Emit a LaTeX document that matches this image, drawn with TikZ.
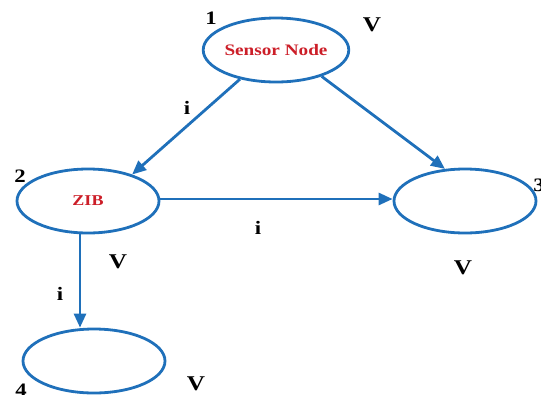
\documentclass[tikz,border=0pt]{standalone}
\usepackage{fontspec}
\usepackage{graphicx}
\setmainfont{Liberation Serif}
\usetikzlibrary{shapes.geometric,arrows.meta}
\definecolor{linkblue}{RGB}{31,112,186}
\definecolor{labelred}{RGB}{204,30,40}
\newcommand\widetxt[1]{\scalebox{1.2}[1]{#1}}
\tikzset{
  vertex/.style={ellipse, draw=linkblue, line width=2.8pt, inner sep=0pt,
                 minimum width=142pt, minimum height=64pt,
                 text=labelred, font=\bfseries\fontsize{16}{16}\selectfont},
  link/.style={draw=linkblue, line width=2.8pt,
               -{Triangle[length=14pt,width=12pt]}},
  tag/.style={font=\bfseries\fontsize{19}{19}\selectfont, inner sep=0pt},
  vlabel/.style={font=\bfseries\fontsize{21}{21}\selectfont, inner sep=0pt},
  ilabel/.style={font=\bfseries\fontsize{19}{19}\selectfont, inner sep=0pt}
}
\begin{document}
\begin{tikzpicture}[x=1pt,y=-1pt]
\useasboundingbox (0,0) rectangle (541,394);

% vertices
\node[vertex] (sensor) at (276,50) {\widetxt{Sensor Node}};
\node[vertex, font=\bfseries\fontsize{15}{15}\selectfont] (zib) at (88,201) {\widetxt{ZIB}};
\node[vertex] (n3) at (465,201) {};
\node[vertex] (n4) at (94,361) {};

% vertex numbers
\node[tag] (t1) at (211,18) {\widetxt{1}};
\node[tag] (t2) at (20,176) {\widetxt{2}};
\node[tag] (t3) at (539,185) {\widetxt{3}};
\node[tag] (t4) at (21,390) {\widetxt{4}};

% V labels
\node[vlabel] (v1) at (372,25) {\widetxt{V}};
\node[vlabel] (v2) at (118,262) {\widetxt{V}};
\node[vlabel] (v3) at (463,268) {\widetxt{V}};
\node[vlabel] (v4) at (196,384) {\widetxt{V}};

% links
\draw[link] (sensor.219) -- (zib.31);
\draw[link] (sensor.330) -- (n3.122);
\draw[link] ([yshift=2pt]zib.east) -- ([yshift=2pt]n3.west);
\draw[link] ([xshift=-8pt]zib.south) -- ([xshift=-14pt]n4.north);

% link labels
\node[ilabel] (i1) at (187,108) {\widetxt{i}};
\node[ilabel] (i2) at (258,228) {\widetxt{i}};
\node[ilabel] (i3) at (60,294) {\widetxt{i}};
\end{tikzpicture}
\end{document}
